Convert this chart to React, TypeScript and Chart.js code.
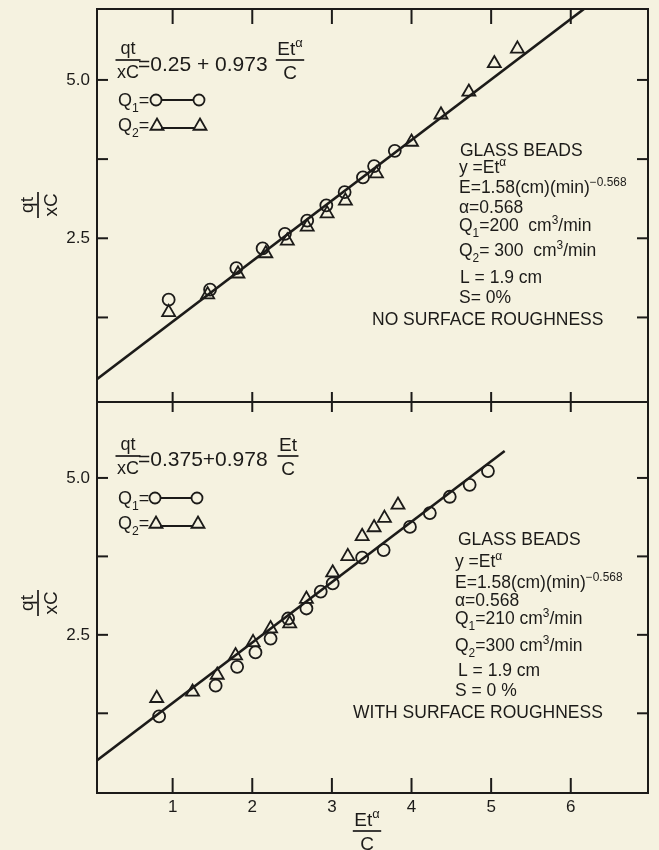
import React, { useEffect, useRef } from 'react';
import { Chart, registerables } from 'chart.js';

Chart.register(...registerables);

const INK = '#1c1b19';
const PAPER = '#f5f2e0';
const FONT = '"Liberation Sans", Arial, sans-serif';

// ---------------- data ----------------
const xAxisMin = 0.05;
const xAxisMax = 6.97;
const xTickValues = [1, 2, 3, 4, 5, 6];
const xTickLabels = ['1', '2', '3', '4', '5', '6'];
const yTickValues = [1.25, 2.5, 3.75, 5.0];
const yTickLabels = ['', '2.5', '', '5.0'];

// top panel: no surface roughness
const topYMin = -0.085;
const topYMax = 6.12;
const topQ1X = [0.95, 1.47, 1.8, 2.13, 2.41, 2.69, 2.93, 3.16, 3.39, 3.53, 3.79];
const topQ1Y = [1.53, 1.69, 2.03, 2.34, 2.57, 2.78, 3.02, 3.23, 3.46, 3.64, 3.88];
const topQ2X = [0.95, 1.44, 1.82, 2.17, 2.44, 2.69, 2.94, 3.17, 3.56, 4.0, 4.37, 4.72, 5.04, 5.33];
const topQ2Y = [1.33, 1.61, 1.94, 2.26, 2.46, 2.68, 2.89, 3.09, 3.52, 4.02, 4.45, 4.81, 5.26, 5.49];
const topFitX = [0, 6.5];
const topFitY = [0.23, 6.44];

// bottom panel: with surface roughness
const botYMin = -0.02;
const botYMax = 6.21;
const botQ1X = [0.83, 1.54, 1.81, 2.04, 2.23, 2.45, 2.68, 2.86, 3.01, 3.38, 3.65, 3.98, 4.23, 4.48, 4.73, 4.96];
const botQ1Y = [1.2, 1.69, 1.99, 2.22, 2.44, 2.76, 2.92, 3.19, 3.32, 3.73, 3.85, 4.22, 4.44, 4.7, 4.89, 5.11];
const botQ2X = [0.8, 1.25, 1.56, 1.79, 2.01, 2.23, 2.47, 2.68, 3.01, 3.2, 3.38, 3.53, 3.66, 3.83];
const botQ2Y = [1.49, 1.59, 1.86, 2.17, 2.38, 2.6, 2.68, 3.07, 3.49, 3.75, 4.07, 4.21, 4.36, 4.57];
const botFitX = [0, 5.17];
const botFitY = [0.45, 5.43];

// ---------------- text helpers ----------------
type Seg = [string, number]; // 0 normal, 1 superscript, -1 subscript

function segSize(size: number, k: number) {
  return k ? size * 0.68 : size;
}

function measureRich(ctx: CanvasRenderingContext2D, segs: Seg[], size: number) {
  let w = 0;
  for (const [t, k] of segs) {
    ctx.font = `${segSize(size, k)}px ${FONT}`;
    w += ctx.measureText(t).width;
  }
  return w;
}

function drawRich(
  ctx: CanvasRenderingContext2D,
  segs: Seg[],
  x: number,
  cy: number,
  size: number,
  align: 'left' | 'center' = 'left'
) {
  const w = measureRich(ctx, segs, size);
  let cx = align === 'center' ? x - w / 2 : x;
  const base = cy + size * 0.36;
  ctx.textAlign = 'left';
  ctx.textBaseline = 'alphabetic';
  for (const [t, k] of segs) {
    const s = segSize(size, k);
    ctx.font = `${s}px ${FONT}`;
    const dy = k === 1 ? -size * 0.42 : k === -1 ? size * 0.3 : 0;
    ctx.fillText(t, cx, base + dy);
    cx += ctx.measureText(t).width;
  }
  return w;
}

function drawFrac(
  ctx: CanvasRenderingContext2D,
  num: Seg[],
  den: Seg[],
  cx: number,
  barY: number,
  size: number,
  gap: number
) {
  const w = Math.max(measureRich(ctx, num, size), measureRich(ctx, den, size)) + 3;
  drawRich(ctx, num, cx, barY - gap, size, 'center');
  drawRich(ctx, den, cx, barY + gap, size, 'center');
  ctx.beginPath();
  ctx.lineWidth = 1.7;
  ctx.moveTo(cx - w / 2, barY);
  ctx.lineTo(cx + w / 2, barY);
  ctx.stroke();
}

function drawCircle(ctx: CanvasRenderingContext2D, x: number, y: number, r: number) {
  ctx.beginPath();
  ctx.arc(x, y, r, 0, Math.PI * 2);
  ctx.stroke();
}

function drawTriangle(ctx: CanvasRenderingContext2D, x: number, y: number, r: number) {
  ctx.beginPath();
  let rad = 0;
  ctx.moveTo(x + Math.sin(rad) * r, y - Math.cos(rad) * r);
  rad += (2 * Math.PI) / 3;
  ctx.lineTo(x + Math.sin(rad) * r, y - Math.cos(rad) * r);
  rad += (2 * Math.PI) / 3;
  ctx.lineTo(x + Math.sin(rad) * r, y - Math.cos(rad) * r);
  ctx.closePath();
  ctx.stroke();
}

type InfoLine = { segs: Seg[]; x: number; y: number };

type Panel = {
  key: 'top' | 'bottom';
  canvasTop: number;
  canvasH: number;
  padTop: number;
  padBottom: number;
  yMin: number;
  yMax: number;
  q1x: number[];
  q1y: number[];
  q2x: number[];
  q2y: number[];
  fitX: number[];
  fitY: number[];
  showX: boolean;
  eqText: string;
  eqNum: Seg[];
  eqY: number;
  eqBar: number;
  eqFracX: number;
  legY1: number;
  legY2: number;
  legX: [number, number];
  titleY: number;
  info: InfoLine[];
};

const TOP: Panel = {
  key: 'top',
  canvasTop: -20,
  canvasH: 450,
  padTop: 29,
  padBottom: 28,
  yMin: topYMin,
  yMax: topYMax,
  q1x: topQ1X,
  q1y: topQ1Y,
  q2x: topQ2X,
  q2y: topQ2Y,
  fitX: topFitX,
  fitY: topFitY,
  showX: false,
  eqText: '=0.25 + 0.973',
  eqNum: [['Et', 0], ['α', 1]],
  eqY: 63,
  eqBar: 60,
  eqFracX: 290,
  legY1: 100,
  legY2: 125,
  legX: [156, 199],
  titleY: 205,
  info: [
    { segs: [['GLASS BEADS', 0]], x: 460, y: 150 },
    { segs: [['y =Et', 0], ['α', 1]], x: 459, y: 167 },
    { segs: [['E=1.58(cm)(min)', 0], ['−0.568', 1]], x: 459, y: 187 },
    { segs: [['α=0.568', 0]], x: 459, y: 207 },
    { segs: [['Q', 0], ['1', -1], ['=200  cm', 0], ['3', 1], ['/min', 0]], x: 459, y: 225 },
    { segs: [['Q', 0], ['2', -1], ['= 300  cm', 0], ['3', 1], ['/min', 0]], x: 459, y: 250 },
    { segs: [['L = 1.9 cm', 0]], x: 460, y: 277 },
    { segs: [['S= 0%', 0]], x: 459, y: 297 },
    { segs: [['NO SURFACE ROUGHNESS', 0]], x: 372, y: 319 },
  ],
};

const BOT: Panel = {
  key: 'bottom',
  canvasTop: 380,
  canvasH: 470,
  padTop: 22,
  padBottom: 0,
  yMin: botYMin,
  yMax: botYMax,
  q1x: botQ1X,
  q1y: botQ1Y,
  q2x: botQ2X,
  q2y: botQ2Y,
  fitX: botFitX,
  fitY: botFitY,
  showX: true,
  eqText: '=0.375+0.978',
  eqNum: [['Et', 0]],
  eqY: 458,
  eqBar: 456,
  eqFracX: 288,
  legY1: 498,
  legY2: 523,
  legX: [155, 197],
  titleY: 603,
  info: [
    { segs: [['GLASS BEADS', 0]], x: 458, y: 539 },
    { segs: [['y =Et', 0], ['α', 1]], x: 455, y: 561 },
    { segs: [['E=1.58(cm)(min)', 0], ['−0.568', 1]], x: 455, y: 582 },
    { segs: [['α=0.568', 0]], x: 455, y: 600 },
    { segs: [['Q', 0], ['1', -1], ['=210 cm', 0], ['3', 1], ['/min', 0]], x: 455, y: 618 },
    { segs: [['Q', 0], ['2', -1], ['=300 cm', 0], ['3', 1], ['/min', 0]], x: 455, y: 645 },
    { segs: [['L = 1.9 cm', 0]], x: 458, y: 670 },
    { segs: [['S = 0 %', 0]], x: 455, y: 690 },
    { segs: [['WITH SURFACE ROUGHNESS', 0]], x: 353, y: 712 },
  ],
};

function panelPlugin(p: Panel) {
  return {
    id: 'paper_' + p.key,
    afterDatasetsDraw(chart: any) {
      const { ctx, chartArea: a, scales } = chart;
      const xs = scales.x;
      const ys = scales.y;
      ctx.save();
      ctx.strokeStyle = INK;
      ctx.fillStyle = INK;
      ctx.lineCap = 'butt';
      const seg = (x1: number, y1: number, x2: number, y2: number) => {
        ctx.beginPath();
        ctx.moveTo(x1, y1);
        ctx.lineTo(x2, y2);
        ctx.stroke();
      };
      // frame
      ctx.lineWidth = 2;
      ctx.strokeRect(a.left, a.top, a.right - a.left, a.bottom - a.top);
      // y ticks (inward, both sides)
      for (const v of yTickValues) {
        const py = ys.getPixelForValue(v);
        seg(a.left, py, a.left + 11, py);
        seg(a.right - 11, py, a.right, py);
      }
      // x ticks
      const topLen = p.key === 'top' ? 15 : 10;
      const botLen = p.key === 'top' ? 10 : 15;
      for (const v of xTickValues) {
        const px = xs.getPixelForValue(v);
        seg(px, a.top, px, a.top + topLen);
        seg(px, a.bottom - botLen, px, a.bottom);
      }

      // annotations in page coordinates
      ctx.translate(0, -p.canvasTop);

      // equation
      drawFrac(ctx, [['qt', 0]], [['xC', 0]], 128, p.eqBar, 18, 12);
      drawRich(ctx, [[p.eqText, 0]], 138, p.eqY, 21);
      drawFrac(ctx, p.eqNum, [['C', 0]], p.eqFracX, p.eqBar, 19, 12);

      // legend
      drawRich(ctx, [['Q', 0], ['1', -1], ['=', 0]], 118, p.legY1, 18);
      drawRich(ctx, [['Q', 0], ['2', -1], ['=', 0]], 118, p.legY2, 18);
      ctx.lineWidth = 1.8;
      const [lx1, lx2] = p.legX;
      drawCircle(ctx, lx1, p.legY1, 5.5);
      drawCircle(ctx, lx2, p.legY1, 5.5);
      ctx.lineWidth = 2;
      seg(lx1 + 5.5, p.legY1, lx2 - 5.5, p.legY1);
      ctx.lineWidth = 1.8;
      drawTriangle(ctx, lx1 + 1, p.legY2 + 1, 7.5);
      drawTriangle(ctx, lx2 + 1, p.legY2 + 1, 7.5);
      ctx.lineWidth = 2;
      seg(lx1 + 5, p.legY2 + 3, lx2 - 4, p.legY2 + 3);

      // info block
      for (const l of p.info) drawRich(ctx, l.segs, l.x, l.y, 17.5);

      // y axis title (rotated fraction)
      ctx.save();
      ctx.translate(38, p.titleY);
      ctx.rotate(-Math.PI / 2);
      drawFrac(ctx, [['qt', 0]], [['xC', 0]], 0, 0, 19, 12);
      ctx.restore();

      // x axis title
      if (p.showX) {
        drawFrac(ctx, [['Et', 0], ['α', 1]], [['C', 0]], 367, 831, 19, 12);
      }
      ctx.restore();
    },
  };
}

function makeConfig(p: Panel): any {
  const pts = (xs: number[], ys: number[]) => xs.map((x, i) => ({ x, y: ys[i] }));
  return {
    type: 'scatter',
    data: {
      datasets: [
        {
          label: 'fit',
          data: pts(p.fitX, p.fitY),
          showLine: true,
          pointRadius: 0,
          borderColor: INK,
          borderWidth: 2.6,
          fill: false,
        },
        {
          label: 'Q1',
          data: pts(p.q1x, p.q1y),
          pointStyle: 'circle',
          pointRadius: 6,
          borderColor: INK,
          backgroundColor: 'rgba(0,0,0,0)',
          borderWidth: 1.8,
        },
        {
          label: 'Q2',
          data: pts(p.q2x, p.q2y),
          pointStyle: 'triangle',
          pointRadius: 7.5,
          borderColor: INK,
          backgroundColor: 'rgba(0,0,0,0)',
          borderWidth: 1.8,
        },
      ],
    },
    options: {
      responsive: false,
      maintainAspectRatio: false,
      animation: false,
      devicePixelRatio: 1,
      events: [],
      layout: { padding: { left: 0, right: 11, top: p.padTop, bottom: p.padBottom } },
      plugins: { legend: { display: false }, tooltip: { enabled: false } },
      scales: {
        x: {
          type: 'linear',
          display: p.showX,
          min: xAxisMin,
          max: xAxisMax,
          afterBuildTicks: (s: any) => {
            s.ticks = xTickValues.map((v) => ({ value: v }));
          },
          afterFit: (s: any) => {
            s.height = p.showX ? 57 : 0;
          },
          grid: { display: false, drawTicks: false },
          border: { display: false },
          ticks: {
            autoSkip: false,
            maxRotation: 0,
            padding: 6,
            color: INK,
            font: { family: FONT, size: 17, lineHeight: 1 },
            callback: (_v: any, i: number) => xTickLabels[i],
          },
        },
        y: {
          type: 'linear',
          min: p.yMin,
          max: p.yMax,
          afterBuildTicks: (s: any) => {
            s.ticks = yTickValues.map((v) => ({ value: v }));
          },
          afterFit: (s: any) => {
            s.width = 97;
          },
          grid: { display: false, drawTicks: false },
          border: { display: false },
          ticks: {
            autoSkip: false,
            padding: 7,
            color: INK,
            font: { family: FONT, size: 17, lineHeight: 1 },
            callback: (_v: any, i: number) => yTickLabels[i],
          },
        },
      },
    },
    plugins: [panelPlugin(p)],
  };
}

export default function App() {
  const topRef = useRef<HTMLCanvasElement>(null);
  const botRef = useRef<HTMLCanvasElement>(null);
  useEffect(() => {
    const c1 = new Chart(topRef.current as HTMLCanvasElement, makeConfig(TOP));
    const c2 = new Chart(botRef.current as HTMLCanvasElement, makeConfig(BOT));
    return () => {
      c1.destroy();
      c2.destroy();
    };
  }, []);
  return (
    <div
      style={{
        position: 'absolute',
        left: 0,
        top: 0,
        width: 659,
        height: 850,
        background: PAPER,
        overflow: 'hidden',
      }}
    >
      <canvas
        ref={topRef}
        width={659}
        height={TOP.canvasH}
        style={{ position: 'absolute', left: 0, top: TOP.canvasTop, width: 659, height: TOP.canvasH }}
      />
      <canvas
        ref={botRef}
        width={659}
        height={BOT.canvasH}
        style={{ position: 'absolute', left: 0, top: BOT.canvasTop, width: 659, height: BOT.canvasH }}
      />
    </div>
  );
}
